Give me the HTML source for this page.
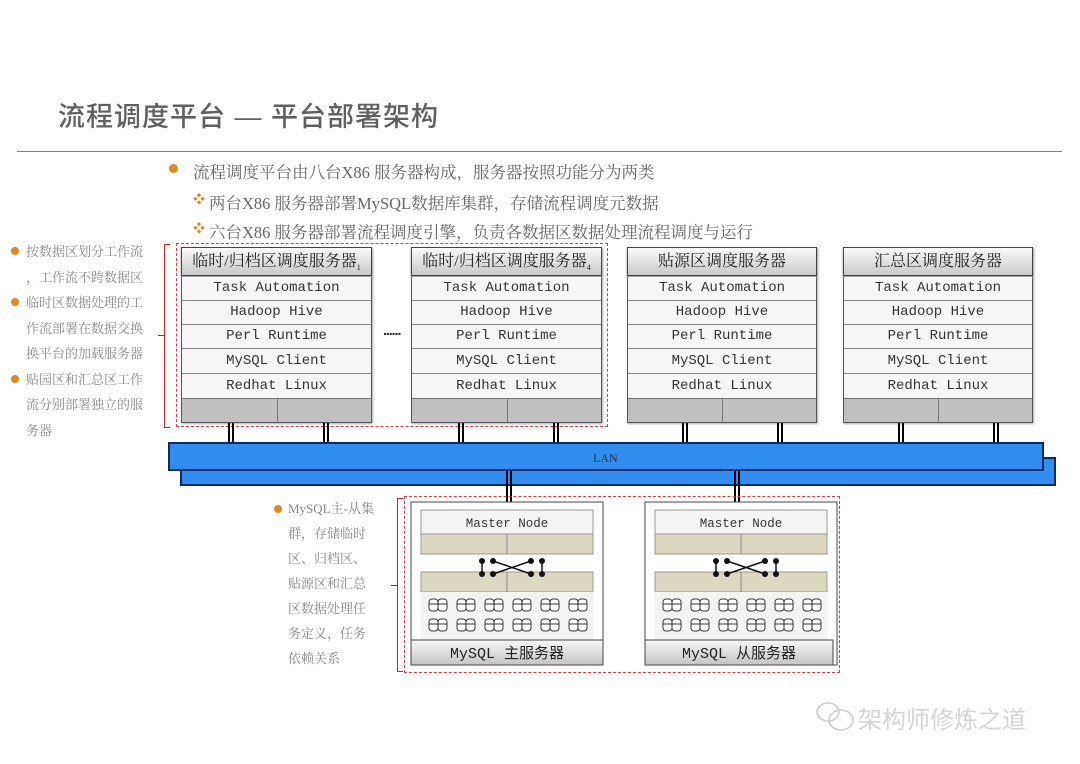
<!DOCTYPE html>
<html><head><meta charset="utf-8">
<style>
*{margin:0;padding:0;box-sizing:border-box}
body{width:1080px;height:764px;background:#fff;position:relative;overflow:hidden;font-family:"Liberation Sans","Noto Sans CJK SC",sans-serif}
.a{position:absolute}
.title{left:58px;top:95px;font-size:27px;color:#606060;letter-spacing:1px;font-weight:500}
.t1{font-size:16.5px;color:#666;font-family:"Liberation Serif","Noto Serif CJK SC",serif}
.dot{width:9px;height:9px;border-radius:50%;background:#e08a1e}
.side{font-size:13px;color:#888;line-height:25.5px;font-family:"Liberation Serif","Noto Serif CJK SC",serif}
.srv{border:1px solid #555;background:#f4f4f4;box-shadow:1px 1px 2px #aaa}
.hdr{position:absolute;left:-1px;right:-1px;top:-1px;height:29px;border:1px solid #444;background:linear-gradient(#fafafa,#c9c9c9);font-family:"Liberation Serif","Noto Serif CJK SC",serif;font-size:16px;color:#222;text-align:center;line-height:27px;box-shadow:0 2px 2px #999}
.row{position:absolute;left:0;right:0;height:24px;border-bottom:1px solid #888;font-family:"Liberation Mono","Noto Sans CJK SC",monospace;font-size:14px;color:#333;text-align:center;line-height:23px;background:#f6f6f6}
.gray{position:absolute;left:0;right:0;bottom:0;height:24px;background:#c0c0c0;border-top:1px solid #777}
.gray:after{content:"";position:absolute;left:50%;top:0;bottom:0;border-left:1px solid #777}
.dash{border:1px dashed #d9394a}
.vv{width:6px;border-left:2px solid #000;border-right:2px solid #000}
.lan{background:#2f8ef0;border:2px solid #0b2a66}
</style></head><body>
<div class="a title">流程调度平台 — 平台部署架构</div>
<div class="a" style="left:17px;top:151px;width:1045px;height:1px;background:#e8506a"></div>

<div class="a dot" style="left:169px;top:164px"></div>
<div class="a t1" style="left:193px;top:159px">流程调度平台由八台X86 服务器构成，服务器按照功能分为两类</div>
<div class="a t1" style="left:193px;top:190px;color:#e08a1e;font-size:12px">❖</div>
<div class="a t1" style="left:209px;top:190px">两台X86 服务器部署MySQL数据库集群，存储流程调度元数据</div>
<div class="a t1" style="left:193px;top:219px;color:#e08a1e;font-size:12px">❖</div>
<div class="a t1" style="left:209px;top:219px">六台X86 服务器部署流程调度引擎，负责各数据区数据处理流程调度与运行</div>

<!-- left notes -->
<div class="a dot" style="left:11px;top:247px;width:8px;height:8px"></div>
<div class="a dot" style="left:11px;top:298px;width:8px;height:8px"></div>
<div class="a dot" style="left:11px;top:375px;width:8px;height:8px"></div>
<div class="a side" style="left:26px;top:239px;width:136px">按数据区划分工作流<br>，工作流不跨数据区<br>临时区数据处理的工<br>作流部署在数据交换<br>换平台的加载服务器<br>贴园区和汇总区工作<br>流分别部署独立的服<br>务器</div>
<div class="a" style="left:164px;top:244px;width:6px;height:184px;border:1px solid #c22;border-right:none"></div>
<div class="a" style="left:158px;top:335px;width:6px;height:1px;background:#c22"></div>

<div class="a dash" style="left:176px;top:243px;width:432px;height:184px"></div>
<div class="a" style="left:383px;top:322px;font-size:14px;font-weight:bold;color:#222;letter-spacing:-1px">......</div>

<!-- servers -->
<div class="a srv" style="left:181px;top:247px;width:191px;height:176px">
<div class="hdr">临时/归档区调度服务器<sub style="font-size:8px">1</sub></div>
<div class="row" style="top:29px">Task Automation</div><div class="row" style="top:53px">Hadoop Hive</div><div class="row" style="top:77px">Perl Runtime</div><div class="row" style="top:102px">MySQL Client</div><div class="row" style="top:127px">Redhat Linux</div><div class="gray"></div></div>
<div class="a srv" style="left:411px;top:247px;width:191px;height:176px">
<div class="hdr">临时/归档区调度服务器<sub style="font-size:8px">4</sub></div>
<div class="row" style="top:29px">Task Automation</div><div class="row" style="top:53px">Hadoop Hive</div><div class="row" style="top:77px">Perl Runtime</div><div class="row" style="top:102px">MySQL Client</div><div class="row" style="top:127px">Redhat Linux</div><div class="gray"></div></div>
<div class="a srv" style="left:627px;top:247px;width:190px;height:176px">
<div class="hdr">贴源区调度服务器</div>
<div class="row" style="top:29px">Task Automation</div><div class="row" style="top:53px">Hadoop Hive</div><div class="row" style="top:77px">Perl Runtime</div><div class="row" style="top:102px">MySQL Client</div><div class="row" style="top:127px">Redhat Linux</div><div class="gray"></div></div>
<div class="a srv" style="left:843px;top:247px;width:190px;height:176px">
<div class="hdr">汇总区调度服务器</div>
<div class="row" style="top:29px">Task Automation</div><div class="row" style="top:53px">Hadoop Hive</div><div class="row" style="top:77px">Perl Runtime</div><div class="row" style="top:102px">MySQL Client</div><div class="row" style="top:127px">Redhat Linux</div><div class="gray"></div></div>

<!-- connectors -->
<div class="a vv" style="left:228px;top:423px;height:21px"></div>
<div class="a vv" style="left:323px;top:423px;height:21px"></div>
<div class="a vv" style="left:458px;top:423px;height:21px"></div>
<div class="a vv" style="left:553px;top:423px;height:21px"></div>
<div class="a vv" style="left:682px;top:423px;height:21px"></div>
<div class="a vv" style="left:777px;top:423px;height:21px"></div>
<div class="a vv" style="left:898px;top:423px;height:21px"></div>
<div class="a vv" style="left:993px;top:423px;height:21px"></div>

<!-- LAN -->
<div class="a lan" style="left:180px;top:457px;width:876px;height:29px"></div>
<div class="a lan" style="left:168px;top:442px;width:876px;height:29px"></div>
<div class="a" style="left:593px;top:451px;font-size:12px;color:#333;font-family:'Liberation Serif',serif">LAN</div>
<div class="a vv" style="left:506px;top:471px;height:35px"></div>
<div class="a vv" style="left:734px;top:471px;height:35px"></div>

<!-- mysql notes -->
<div class="a dot" style="left:274px;top:505px;width:8px;height:8px"></div>
<div class="a side" style="left:288px;top:496px;width:94px;line-height:25px;font-size:13px">MySQL主-从集<br>群，存储临时<br>区、归档区、<br>贴源区和汇总<br>区数据处理任<br>务定义，任务<br>依赖关系</div>
<div class="a" style="left:397px;top:498px;width:6px;height:174px;border:1px solid #c22;border-right:none"></div>
<div class="a" style="left:391px;top:585px;width:6px;height:1px;background:#c22"></div>
<div class="a dash" style="left:404px;top:496px;width:436px;height:177px"></div>

<!-- mysql boxes -->
<svg class="a" style="left:0;top:0" width="1080" height="764">
<defs>
<g id="db"><rect x="0" y="0" width="9" height="12" rx="3" fill="#fff" stroke="#333"/><rect x="9" y="0" width="9" height="12" rx="3" fill="#fff" stroke="#333"/><line x1="0.5" y1="5" x2="17.5" y2="5" stroke="#333"/></g>
<g id="ms">
<rect x="0" y="0" width="192" height="163" fill="#fff" stroke="#444"/>
<rect x="10" y="8" width="172" height="24" fill="#f4f4f4" stroke="#999"/>
<text x="96" y="25" text-anchor="middle" font-family="Liberation Mono,monospace" font-size="12.5" fill="#333">Master Node</text>
<rect x="10" y="32" width="172" height="20" fill="#ddd8c0" stroke="#999"/><line x1="96" y1="32" x2="96" y2="52" stroke="#888"/>
<rect x="10" y="70" width="172" height="20" fill="#ddd8c0" stroke="#999"/><line x1="96" y1="70" x2="96" y2="90" stroke="#888"/>
<rect x="10" y="90" width="172" height="48" fill="#f4f4f4"/>
<g stroke="#111" stroke-width="1.5"><line x1="71" y1="59" x2="71" y2="72"/><line x1="131" y1="59" x2="131" y2="72"/><line x1="82" y1="59" x2="120" y2="72"/><line x1="82" y1="72" x2="120" y2="59"/></g>
<g fill="#111"><circle cx="71" cy="59" r="3"/><circle cx="82" cy="59" r="3"/><circle cx="120" cy="59" r="3"/><circle cx="131" cy="59" r="3"/><circle cx="71" cy="72" r="3"/><circle cx="82" cy="72" r="3"/><circle cx="120" cy="72" r="3"/><circle cx="131" cy="72" r="3"/></g>
<use href="#db" x="18" y="97"/><use href="#db" x="46" y="97"/><use href="#db" x="74" y="97"/><use href="#db" x="102" y="97"/><use href="#db" x="130" y="97"/><use href="#db" x="158" y="97"/>
<use href="#db" x="18" y="117"/><use href="#db" x="46" y="117"/><use href="#db" x="74" y="117"/><use href="#db" x="102" y="117"/><use href="#db" x="130" y="117"/><use href="#db" x="158" y="117"/>
</g>
<linearGradient id="gg" x1="0" y1="0" x2="0" y2="1"><stop offset="0" stop-color="#f8f8f8"/><stop offset="1" stop-color="#c4c4c4"/></linearGradient>
</defs>
<use href="#ms" x="411" y="502"/>
<use href="#ms" x="645" y="502"/>
<rect x="411" y="640" width="192" height="25" fill="url(#gg)" stroke="#444"/>
<rect x="645" y="640" width="188" height="25" fill="url(#gg)" stroke="#444"/>
<text x="507" y="658" text-anchor="middle" font-family="Liberation Mono,Noto Sans CJK SC,monospace" font-size="15" fill="#222">MySQL 主服务器</text>
<text x="739" y="658" text-anchor="middle" font-family="Liberation Mono,Noto Sans CJK SC,monospace" font-size="15" fill="#222">MySQL 从服务器</text>
<g fill="none" stroke="#ccc" stroke-width="1.5"><ellipse cx="828" cy="712" rx="11" ry="9"/><ellipse cx="841" cy="720" rx="12" ry="10"/></g>
</svg>
<div class="a" style="left:858px;top:700px;font-size:24px;color:#d6d6d6">架构师修炼之道</div>
</body></html>
